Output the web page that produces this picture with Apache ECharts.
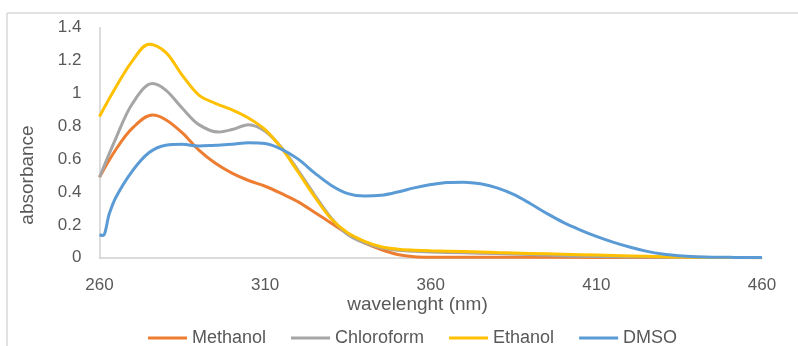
<!DOCTYPE html>
<html>
<head>
<meta charset="utf-8">
<script src="https://cdn.jsdelivr.net/npm/echarts@6/dist/echarts.min.js"></script>
<style>html,body{margin:0;padding:0;background:#fff;}#c{width:798px;height:346px;}</style>
</head>
<body>
<div id="c"></div>
<script>
var seriesNames = ['Methanol', 'Chloroform', 'Ethanol', 'DMSO'];
var xTicks = [260, 310, 360, 410, 460];
var yTicks = [0, 0.2, 0.4, 0.6, 0.8, 1, 1.2, 1.4];

var methanolWl = [260,265,270,276,280,285,290,295,300,305,310,315,320,325,330,335,340,345,350,355,360,380,400,420,440,460];
var methanolAbs = [0.49,0.66,0.79,0.868,0.84,0.76,0.655,0.575,0.515,0.47,0.435,0.39,0.34,0.275,0.21,0.145,0.09,0.05,0.02,0.006,0.003,0.002,0.002,0.001,0.001,0.0];

var chloroformWl = [260,265,270,276,280,285,290,296,300,305,310,315,320,325,330,335,340,345,350,355,360,370,380,390,400,410,420,430,440,450,460];
var chloroformAbs = [0.49,0.73,0.94,1.06,1.02,0.91,0.81,0.765,0.78,0.81,0.77,0.67,0.53,0.38,0.24,0.14,0.09,0.06,0.045,0.04,0.035,0.03,0.025,0.02,0.012,0.008,0.005,0.003,0.002,0.001,0.0];

var ethanolWl = [260,265,270,275,280,285,290,295,300,305,310,315,320,325,330,335,340,345,350,355,360,370,380,390,400,410,420,430,440,450,460];
var ethanolAbs = [0.86,1.04,1.2,1.30,1.25,1.11,0.99,0.94,0.90,0.85,0.78,0.665,0.52,0.37,0.235,0.15,0.1,0.067,0.052,0.046,0.042,0.037,0.031,0.026,0.021,0.016,0.011,0.006,0.002,0.001,0.0];

var dmsoWl = [260,261,263,265,270,275,280,285,290,295,300,305,310,315,320,325,330,335,340,345,350,355,360,365,370,375,380,385,390,395,400,405,410,415,420,425,430,435,440,445,450,455,460];
var dmsoAbs = [0.14,0.135,0.27,0.37,0.53,0.64,0.685,0.69,0.68,0.685,0.69,0.70,0.695,0.66,0.60,0.515,0.44,0.39,0.375,0.38,0.40,0.425,0.445,0.458,0.46,0.45,0.425,0.385,0.33,0.27,0.215,0.17,0.13,0.095,0.065,0.04,0.022,0.012,0.006,0.003,0.002,0.001,0.001];

var colors = ['#ED7D31', '#A5A5A5', '#FFC000', '#5B9BD5'];
var wls = [methanolWl, chloroformWl, ethanolWl, dmsoWl];
var abss = [methanolAbs, chloroformAbs, ethanolAbs, dmsoAbs];

function pairs(xs, ys) { return xs.map(function (x, i) { return [x, ys[i]]; }); }

var FONT = 'Liberation Sans';
var chart = echarts.init(document.getElementById('c'), null, {renderer: 'canvas'});
chart.setOption({
  animation: false,
  backgroundColor: '#fff',
  color: colors,
  grid: {left: 99.5, right: 36, top: 27.7, bottom: 88.3, containLabel: false},
  xAxis: {
    type: 'value', min: xTicks[0], max: xTicks[xTicks.length - 1], interval: 50,
    axisLine: {show: true, lineStyle: {color: '#d0d0d0', width: 1.5}},
    axisTick: {show: false}, splitLine: {show: false},
    axisLabel: {color: '#595959', fontFamily: FONT, fontSize: 17, margin: 19}
  },
  yAxis: {
    type: 'value', min: yTicks[0], max: yTicks[yTicks.length - 1], interval: 0.2,
    axisLine: {show: true, lineStyle: {color: '#d0d0d0', width: 1.5}},
    axisTick: {show: false}, splitLine: {show: false},
    axisLabel: {color: '#595959', fontFamily: FONT, fontSize: 17, margin: 18}
  },
  legend: {
    left: 143, top: 324, itemWidth: 39, itemHeight: 3, itemGap: 25,
    icon: 'rect',
    textStyle: {color: '#595959', fontFamily: FONT, fontSize: 18, padding: [0, 0, 0, 0]},
    data: seriesNames
  },
  series: seriesNames.map(function (n, i) {
    return {
      name: n, type: 'line', data: pairs(wls[i], abss[i]),
      smooth: 0.35, showSymbol: false, symbol: 'none',
      lineStyle: {width: 3, color: colors[i]}, z: 2 + i
    };
  }),
  graphic: [
    {type: 'line', shape: {x1: 7, y1: 13, x2: 798, y2: 13}, style: {stroke: '#d9d9d9', lineWidth: 1.5}},
    {type: 'line', shape: {x1: 7, y1: 13, x2: 7, y2: 346}, style: {stroke: '#d9d9d9', lineWidth: 1.5}},
    {type: 'text', x: 417.5, y: 305, style: {text: 'wavelenght (nm)', fill: '#595959', font: '19px "' + FONT + '"', textAlign: 'center', textVerticalAlign: 'middle'}},
    {type: 'text', x: 27.5, y: 175, rotation: Math.PI / 2, style: {text: 'absorbance', fill: '#595959', font: '19px "' + FONT + '"', textAlign: 'center', textVerticalAlign: 'middle'}}
  ]
});
</script>
</body>
</html>
